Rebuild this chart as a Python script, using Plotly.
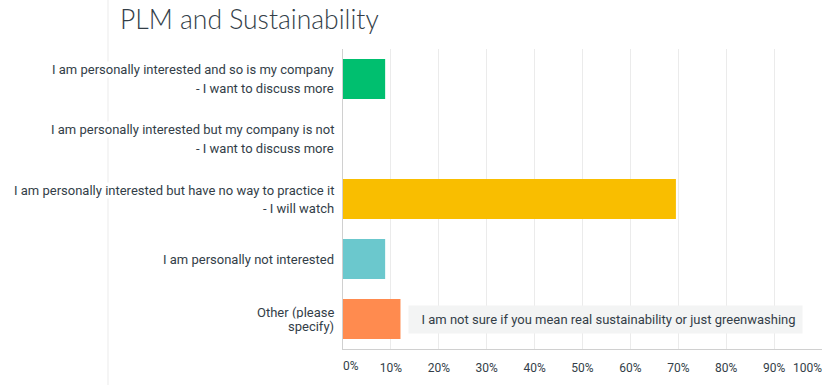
import plotly.graph_objects as go

# ---- data ----
categories = [
    "I am personally interested and so is my company\n- I want to discuss more",
    "I am personally interested but my company is not\n- I want to discuss more",
    "I am personally interested but have no way to practice it\n- I will watch",
    "I am personally not interested",
    "Other (please\nspecify)",
]
values = [8.8, 0.0, 69.5, 8.8, 12.0]
comment_text = "I am not sure if you mean real sustainability or just greenwashing"
tick_values = [0, 10, 20, 30, 40, 50, 60, 70, 80, 90, 100]
tick_labels = ["0%", "10%", "20%", "30%", "40%", "50%", "60%", "70%", "80%", "90%", "100%"]
title_text = "PLM and Sustainability"

# ---- styles ----
bar_colors = ["#00bf6f", "#f9be00", "#f9be00", "#6bc8cd", "#ff8b4f"]
text_color = "#333e48"
font_family = "Roboto, 'Open Sans', sans-serif"
line_pitch = [19, 19, 18, 19, 14]

keys = [f"c{i}" for i in range(len(categories))]

fig = go.Figure()
fig.add_trace(go.Bar(
    x=values, y=keys, orientation="h",
    marker=dict(color=bar_colors, line=dict(width=0)),
    hoverinfo="skip",
))
# empty helper traces so the end-label axes are drawn
fig.add_trace(go.Scatter(x=[], y=[], xaxis="x2", yaxis="y", hoverinfo="skip"))
fig.add_trace(go.Scatter(x=[], y=[], xaxis="x3", yaxis="y", hoverinfo="skip"))

annotations = []
for i, (k, cat) in enumerate(zip(keys, categories)):
    lines = cat.split("\n")
    n = len(lines)
    for j, ln in enumerate(lines):
        shift = ((n - 1) / 2 - j) * line_pitch[i]
        annotations.append(dict(
            xref="paper", x=0, yref="y", y=k, xanchor="right", yanchor="middle",
            xshift=-8, yshift=shift, text=ln, showarrow=False,
            bgcolor="white", borderpad=0,
            font=dict(family=font_family, size=13, color=text_color),
        ))

annotations.append(dict(
    xref="x", x=values[4], yref="y", y=keys[4], xanchor="left", yanchor="middle",
    xshift=8, text="\u00a0\u00a0" + comment_text, showarrow=False,
    bgcolor="#f3f4f4", borderpad=6,
    font=dict(family=font_family, size=13, color=text_color),
))

inner_ticktext = [""] + tick_labels[1:-1] + [""]
tickfont = dict(family=font_family, size=12, color=text_color)

fig.update_layout(
    width=831, height=385,
    margin=dict(l=343, r=9, t=49, b=36, autoexpand=False),
    paper_bgcolor="white", plot_bgcolor="white",
    showlegend=False,
    bargap=1/3,
    title=dict(
        text=title_text, xref="container", yref="container",
        x=120/831, y=1 - 20/385, xanchor="left", yanchor="middle",
        font=dict(family="Lato, 'Open Sans', sans-serif", size=26.5, color=text_color, weight=300),
    ),
    annotations=annotations,
    shapes=[dict(
        type="line", xref="paper", yref="paper",
        x0=(108 - 343) / 479, x1=(108 - 343) / 479, y0=-0.13, y1=1.17,
        line=dict(color="#ebebeb", width=1), layer="below",
    )],
    xaxis=dict(
        range=[0, 100], tickvals=tick_values, ticktext=inner_ticktext,
        showgrid=True, gridcolor="#ebebeb", gridwidth=1,
        showline=True, linecolor="#d0d0d0", linewidth=1,
        zeroline=False, ticks="", ticklabelstandoff=8,
        automargin=False, tickfont=tickfont, fixedrange=True,
    ),
    xaxis2=dict(
        overlaying="x", anchor="y", side="bottom",
        range=[0, 100], tickvals=[tick_values[-1]], ticktext=[tick_labels[-1]],
        ticklabelposition="outside left", ticklabeloverflow="allow",
        showgrid=False, showline=False, zeroline=False, ticks="",
        ticklabelstandoff=10, automargin=False, tickfont=tickfont, fixedrange=True,
    ),
    xaxis3=dict(
        overlaying="x", anchor="y", side="bottom",
        range=[0, 100], tickvals=[tick_values[0]], ticktext=[tick_labels[0]],
        ticklabelposition="outside right", ticklabeloverflow="allow",
        showgrid=False, showline=False, zeroline=False, ticks="",
        ticklabelstandoff=8, automargin=False, tickfont=tickfont, fixedrange=True,
    ),
    yaxis=dict(
        categoryorder="array", categoryarray=keys, autorange="reversed",
        showticklabels=False, showgrid=False, zeroline=False,
        showline=True, linecolor="#d0d0d0", linewidth=1, ticks="",
        automargin=False, fixedrange=True,
    ),
)

fig.write_html(
    "out.html",
    config={"displayModeBar": False},
    post_script="document.body.style.margin='0';",
)
